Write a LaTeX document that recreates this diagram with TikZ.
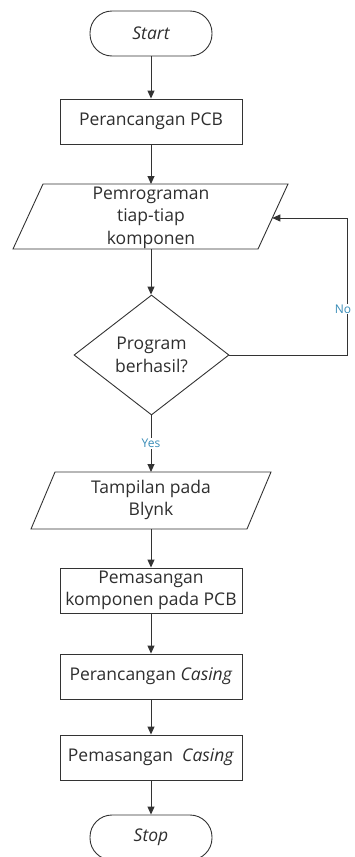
\documentclass[tikz,border=0pt]{standalone}
\usepackage{fontspec}
\setmainfont{Open Sans}
\usetikzlibrary{shapes.geometric,arrows.meta}
\definecolor{linec}{HTML}{333333}
\definecolor{textc}{HTML}{2E2E2E}
\definecolor{labc}{HTML}{3A8DB8}
\begin{document}
\begin{tikzpicture}[x=1pt,y=1pt,
  every node/.style={font=\fontsize{17.5}{22.5}\selectfont, text=textc},
  procbox/.style={draw=linec, line width=0.9pt, rectangle, minimum width=182pt, minimum height=45pt, inner sep=0pt, align=center},
  termbox/.style={draw=linec, line width=0.9pt, rectangle, rounded corners=22pt, minimum width=122pt, minimum height=45pt, inner sep=0pt},
  ioshape/.style={draw=linec, line width=0.9pt, line join=miter},
  decbox/.style={draw=linec, line width=0.9pt, diamond, minimum width=155pt, minimum height=120pt, inner sep=0pt, align=center},
  txt/.style={inner sep=0pt, align=center},
  arr/.style={draw=linec, line width=0.9pt, -{Triangle[length=8pt,width=7pt]}},
  lab/.style={font=\fontsize{12}{14}\selectfont, text=labc, fill=white, inner sep=1pt}
]
\useasboundingbox (0,0) rectangle (355,-857);
\node[termbox] (start) at (151,-33.5) {\itshape Start};
\node[procbox] (b1) at (151,-121.5) {Perancangan PCB};
% input/output 1
\draw[ioshape] (43,-184) -- (288,-184) -- (258,-249) -- (13,-249) -- cycle;
\coordinate (p1n) at (151,-184);
\coordinate (p1s) at (151,-249);
\coordinate (p1e) at (272.3,-218);
\node[txt] (t1) at (151,-217.5) {Pemrograman\\tiap-tiap\\komponen};
\node[decbox] (d) at (151.5,-355) {Program\\berhasil?};
% input/output 2
\draw[ioshape] (55,-472) -- (271,-472) -- (247,-529) -- (31,-529) -- cycle;
\coordinate (p2n) at (151,-472);
\coordinate (p2s) at (151,-529);
\node[txt] (t2) at (151,-500) {Tampilan pada\\Blynk};
\node[procbox] (b2) at (151,-590.5) {Pemasangan\\komponen pada PCB};
\node[procbox] (b3) at (151,-676.5) {Perancangan \textit{Casing}};
\node[procbox] (b4) at (151,-757.5) {Pemasangan\ \ \textit{Casing}};
\node[termbox] (stop) at (151,-837.5) {\itshape Stop};

\draw[arr] (start) -- (b1);
\draw[arr] (b1) -- (p1n);
\draw[arr] (p1s) -- (d.north -| p1s);
\draw[arr] (d.south -| p2n) -- node[lab, pos=0.5] (yes) {Yes} (p2n);
\draw[arr] (p2s) -- (b2.north -| p2s);
\draw[arr] (b2) -- (b3);
\draw[arr] (b3) -- (b4);
\draw[arr] (b4) -- (stop);
\draw[arr] (d.east) -- ++(118,0) coordinate (c1) |- (p1e);
\node[lab] (no) at (343,-309) {No};
\end{tikzpicture}
\end{document}
